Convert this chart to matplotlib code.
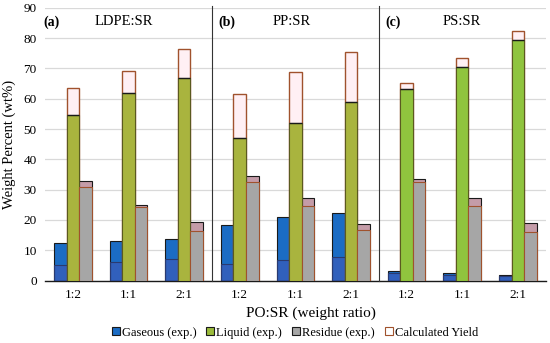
import matplotlib.pyplot as plt
import numpy as np
from matplotlib.patches import Patch

plt.rcParams['font.family'] = 'Liberation Serif'
plt.rcParams['font.size'] = 9.5

ratios = ['1:2', '1:1', '2:1', '1:2', '1:1', '2:1', '1:2', '1:1', '2:1']
panels = ['LDPE:SR', 'PP:SR', 'PS:SR']
panel_tags = ['(a)', '(b)', '(c)']

# experimental yields (wt%)
gas_exp = [12.3, 13.0, 13.7, 18.3, 21.1, 22.2, 3.2, 2.4, 1.7]
liq_exp = [54.7, 61.8, 66.8, 47.0, 51.9, 59.0, 63.2, 70.4, 79.4]
res_exp = [32.9, 24.9, 19.4, 34.6, 27.1, 18.7, 33.5, 27.3, 18.9]
# calculated yields (wt%)
gas_calc = [5.3, 6.1, 7.1, 5.6, 6.8, 7.9, 2.6, 2.0, 1.5]
liq_calc = [63.5, 69.3, 76.5, 61.6, 68.8, 75.6, 65.1, 73.5, 82.3]
res_calc = [31.0, 24.4, 16.4, 32.6, 24.6, 16.7, 32.6, 24.6, 16.1]

blue = '#1b6cc4'
green_ab = '#a9b43e'
green_c = '#90c43e'
gray = '#a6a6a6'
mauve = '#c49ca8'
brown = '#a0522d'
pink = '#fff0f4'
dark = '#1a1a1a'

fig = plt.figure(figsize=(5.5, 3.43), dpi=100)
ax = fig.add_axes([0.082, 0.182, 0.910, 0.795])

x = np.arange(len(ratios))
w = 0.225
liq_colors = [green_ab] * 6 + [green_c] * 3

# gaseous: blue exp bar, purple-tinted calc overlay
ax.bar(x - w, gas_exp, w, color=blue, edgecolor=dark, linewidth=0.8, zorder=2)
ax.bar(x - w, gas_calc, w, color=(0.45, 0.25, 0.65, 0.25), edgecolor='#2a3a70', linewidth=0.8, zorder=3)

# liquid: calc box behind the green exp bar
ax.bar(x, liq_calc, w, color=pink, edgecolor=brown, linewidth=1.0, zorder=2)
ax.bar(x, liq_exp, w, color=liq_colors, edgecolor='#5a5a20', linewidth=0.8, zorder=3)
ax.hlines(liq_exp, x - w / 2, x + w / 2, color=dark, linewidth=1.0, zorder=4)

# residue: mauve exp top, gray calc in front
ax.bar(x + w, res_exp, w, color=mauve, edgecolor=dark, linewidth=0.8, zorder=2)
ax.bar(x + w, res_calc, w, color=gray, edgecolor=brown, linewidth=0.8, zorder=3)

ax.set_xlim(-0.5, len(ratios) - 0.5)
ax.set_ylim(0, 90)
ax.set_yticks(range(0, 91, 10))
ax.set_xticks(x)
ax.set_xticklabels(ratios)
ax.tick_params(length=0, pad=6)
ax.yaxis.grid(True, color='#d9d9d9', linewidth=0.9, zorder=0)
ax.set_axisbelow(True)
for s in ['left', 'right', 'top']:
    ax.spines[s].set_visible(False)
ax.spines['bottom'].set_color(dark)
ax.spines['bottom'].set_linewidth(1.0)

for sep in [2.5, 5.5]:
    ax.plot([sep, sep], [0, 90.5], color='#333333', linewidth=0.8, zorder=5, clip_on=False)

tag_x = [-0.54, 2.61, 5.61]
name_x = [0.91, 3.93, 6.99]
for i in range(3):
    ax.text(tag_x[i], 85.4, panel_tags[i], fontweight='bold', fontsize=10, va='center', ha='left')
    ax.text(name_x[i], 85.4, panels[i], fontsize=10.5, va='center', ha='center')

ax.set_ylabel('Weight Percent (wt%)', fontsize=10.5, labelpad=5)
fig.text(0.566, 0.088, 'PO:SR (weight ratio)', fontsize=11, ha='center', va='center')

handles = [
    Patch(facecolor=blue, edgecolor=dark, linewidth=0.8),
    Patch(facecolor='#9bbb3b', edgecolor=dark, linewidth=0.8),
    Patch(facecolor=gray, edgecolor=dark, linewidth=0.8),
    Patch(facecolor='white', edgecolor=brown, linewidth=0.8),
]
labels = ['Gaseous (exp.)', 'Liquid (exp.)', 'Residue (exp.)', 'Calculated Yield']
fig.legend(handles, labels, loc='center', bbox_to_anchor=(0.536, 0.03), ncol=4,
           frameon=False, handlelength=0.65, handleheight=0.65, handletextpad=0.15,
           columnspacing=0.8, fontsize=9)

fig.savefig('out.png', dpi=100)
